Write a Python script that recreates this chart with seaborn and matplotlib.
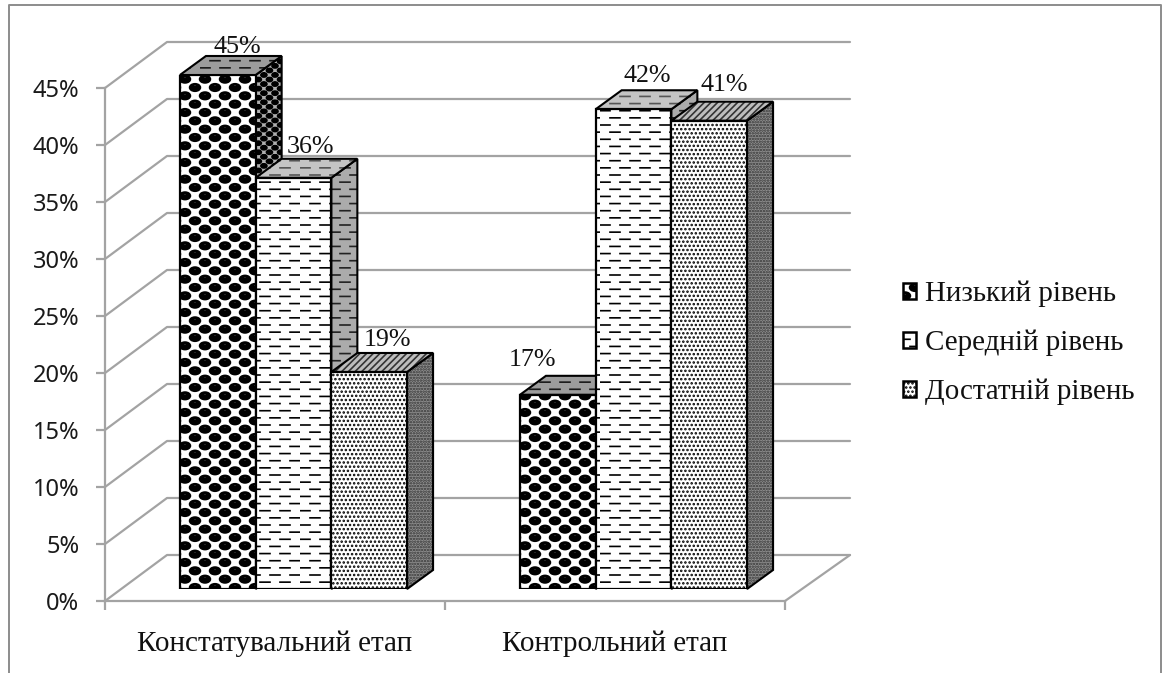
import numpy as np
import pandas as pd
import seaborn as sns
import matplotlib
matplotlib.use("Agg")
import matplotlib.hatch as mhatch
from matplotlib import pyplot as plt
from matplotlib.lines import Line2D
from matplotlib.patches import Patch, Polygon
from matplotlib.path import Path

stages = ["Констатувальний етап", "Контрольний етап"]
levels = ["Низький рівень", "Середній рівень", "Достатній рівень"]
low_values = [45, 17]
mid_values = [36, 42]
high_values = [19, 41]
y_ticks = [0, 5, 10, 15, 20, 25, 30, 35, 40, 45]

W, H = 1165, 673
GRID = "#a3a3a3"
SERIF = "Liberation Serif"


class DashRows(mhatch.HatchPatternBase):
    # staggered short dashes, takes the place of the plain "-" hatch
    rows, cols = 14, 5

    def __init__(self, hatch, density):
        self.on = hatch.count("-") > 0
        self.num_vertices = self.rows * self.cols * 2 if self.on else 0

    def set_vertices_and_codes(self, vertices, codes):
        pts = []
        for r in range(self.rows):
            for c in range(self.cols):
                x = c / self.cols + (r % 2) * 0.1
                y = (r + 0.5) / self.rows
                pts += [(x, y), (x + 0.1, y)]
        vertices[:] = pts
        codes[0::2] = Path.MOVETO
        codes[1::2] = Path.LINETO


class BallRows(mhatch.HatchPatternBase):
    # staggered flat black balls with a light spot, replaces "o"
    rows, cols = 12, 5
    char = "o"

    def __init__(self, hatch, density):
        self.on = hatch.count(self.char) > 0
        self.circle = Path.unit_circle()
        self.num_vertices = (self.rows + 2) * (self.cols + 2) * 2 * len(self.circle.vertices) if self.on else 0

    def set_vertices_and_codes(self, vertices, codes):
        n = len(self.circle.vertices)
        cx = 1 / self.cols
        cy = 1 / self.rows
        cursor = 0
        for r in range(-1, self.rows + 1):
            for c in range(-1, self.cols + 1):
                x = (c + 0.25 + (r % 2) * 0.5) * cx
                y = (r + 0.5) * cy
                vertices[cursor:cursor + n] = self.circle.vertices * [0.27 * cx, 0.45 * cy] + (x, y)
                codes[cursor:cursor + n] = self.circle.codes
                cursor += n
                vertices[cursor:cursor + n] = self.circle.vertices[::-1] * [0.14 * cx, 0.11 * cy] + (x, y + 0.2 * cy)
                codes[cursor:cursor + n] = self.circle.codes
                cursor += n


class SmallBallRows(BallRows):
    # the same balls, finer, for the shaded faces; replaces "O"
    rows, cols = 22, 9
    char = "O"


mhatch._hatch_types[mhatch._hatch_types.index(mhatch.HorizontalHatch)] = DashRows
mhatch._hatch_types[mhatch._hatch_types.index(mhatch.SmallCircles)] = BallRows
mhatch._hatch_types[mhatch._hatch_types.index(mhatch.LargeCircles)] = SmallBallRows

sns.set_theme(style="white")
plt.rcParams["hatch.linewidth"] = 1.2

df = pd.DataFrame({"stage": stages, levels[0]: low_values, levels[1]: mid_values, levels[2]: high_values})
df = pd.melt(df, id_vars=["stage"], var_name="level", value_name="value")

fig = plt.figure(figsize=(W / 100, H / 100), dpi=100)

# front plane of the box: axis, ticks and the walls behind the bars
wall = fig.add_axes([105 / W, (H - 601) / H, 680 / W, 513 / H])
wall.set_xlim(-0.5, 1.5)
wall.set_ylim(0, 45)
wall_dx = 62 / 340
wall_dy = 46 / 11.4
for t in y_ticks:
    wall.plot([-0.5, -0.5 + wall_dx, 1.5 + 65 / 340], [t, t + wall_dy, t + wall_dy], color=GRID, lw=1.6, clip_on=False)
wall.plot([1.5, 1.5 + 65 / 340], [0, wall_dy], color=GRID, lw=1.6, clip_on=False)
sns.despine(ax=wall, top=True, right=True)
for side in ["left", "bottom"]:
    wall.spines[side].set_color(GRID)
    wall.spines[side].set_linewidth(1.6)
wall.set_yticks(y_ticks)
wall.set_yticklabels([f"{t}%" for t in y_ticks], fontfamily="Noto Sans", fontsize=17, color="#1a1a1a")
wall.set_xticks([-0.5, 0.5, 1.5])
wall.set_xticklabels([])
wall.set_xticks([0, 1], minor=True)
wall.set_xticklabels(stages, minor=True, fontfamily=SERIF, fontsize=21, color="#111111")
wall.tick_params(axis="y", which="major", left=True, length=6.5, width=1.6, color=GRID, pad=12)
wall.tick_params(axis="x", which="major", bottom=True, length=6.5, width=1.6, color=GRID)
wall.tick_params(axis="x", which="minor", bottom=False, length=0, pad=21.5)

# bars stand inside the box, so their plane sits a little to the right and up
ax = fig.add_axes([123.5 / W, (H - 589) / H, 680 / W, 514 / H])
ax.patch.set_alpha(0)
sns.barplot(df, x="stage", y="value", hue="level", hue_order=levels, order=stages, ax=ax,
            palette=["white"] * 3, saturation=1, width=0.668, gap=0, edgecolor="black",
            linewidth=1.6, legend=False)
ax.set_xlim(-0.5, 1.5)
ax.set_ylim(0, 45)
ax.axis("off")

front_hatch = ["o", "-", "...."]
top_style = [("#9c9c9c", "#1a1a1a", "-"), ("#c4c4c4", "#555555", "-"), ("#bdbdbd", "#333333", "/////")]
side_style = [("#b0b0b0", "black", "O"), ("#ababab", "#222222", "-"), ("#8f8f8f", "#333333", "......")]
label_shift = {0: [(20, 17), (-25, 24)], 1: [(17, 20), (14, 22)], 2: [(18, 21), (15, 25)]}

depth_x = 26 / 340
depth_y = 19 / 11.42

for i, bars in enumerate(ax.containers):
    for j, bar in enumerate(bars):
        x0 = bar.get_x()
        x1 = x0 + bar.get_width()
        top = bar.get_height()
        bar.set_hatch(front_hatch[i])
        bar.set_zorder(3 + 2 * i)
        side = [(x1, 0), (x1 + depth_x, depth_y), (x1 + depth_x, top + depth_y), (x1, top)]
        lid = [(x0, top), (x0 + depth_x, top + depth_y), (x1 + depth_x, top + depth_y), (x1, top)]
        for pts, (fill, ink, hatch) in [(side, side_style[i]), (lid, top_style[i])]:
            ax.add_patch(Polygon(pts, facecolor=fill, edgecolor=ink, hatch=hatch, lw=0, zorder=2 + 2 * i, clip_on=False))
            ax.add_patch(Polygon(pts, fill=False, edgecolor="black", lw=1.5, zorder=2 + 2 * i, clip_on=False))
        shift = label_shift[i][j]
        ax.annotate(f"{top:.0f}%", ((x0 + x1) / 2, top), xytext=(shift[0] * 0.72, shift[1] * 0.72),
                    textcoords="offset points", ha="center", va="bottom", fontfamily=SERIF,
                    fontsize=18.7, color="#111111", zorder=20, annotation_clip=False)

handles = [Patch(facecolor="white", edgecolor="black", hatch=h, lw=1.8) for h in ["o", "-", "...."]]
fig.legend(handles, levels, loc="center left", bbox_to_anchor=(877 / W, (H - 343) / H), frameon=False,
           prop={"family": SERIF, "size": 20.9}, handlelength=0.45, handleheight=0.45, handletextpad=0.3,
           labelspacing=0.78, labelcolor="#111111")

# chart border, cut off by the bottom of the picture
fig.add_artist(Line2D([x / W for x in [9, 9, 1161, 1161]], [1 - y / H for y in [673, 4.5, 4.5, 673]],
                      color="#8c8c8c", lw=1.4))

plt.savefig("out.png", dpi=100)
